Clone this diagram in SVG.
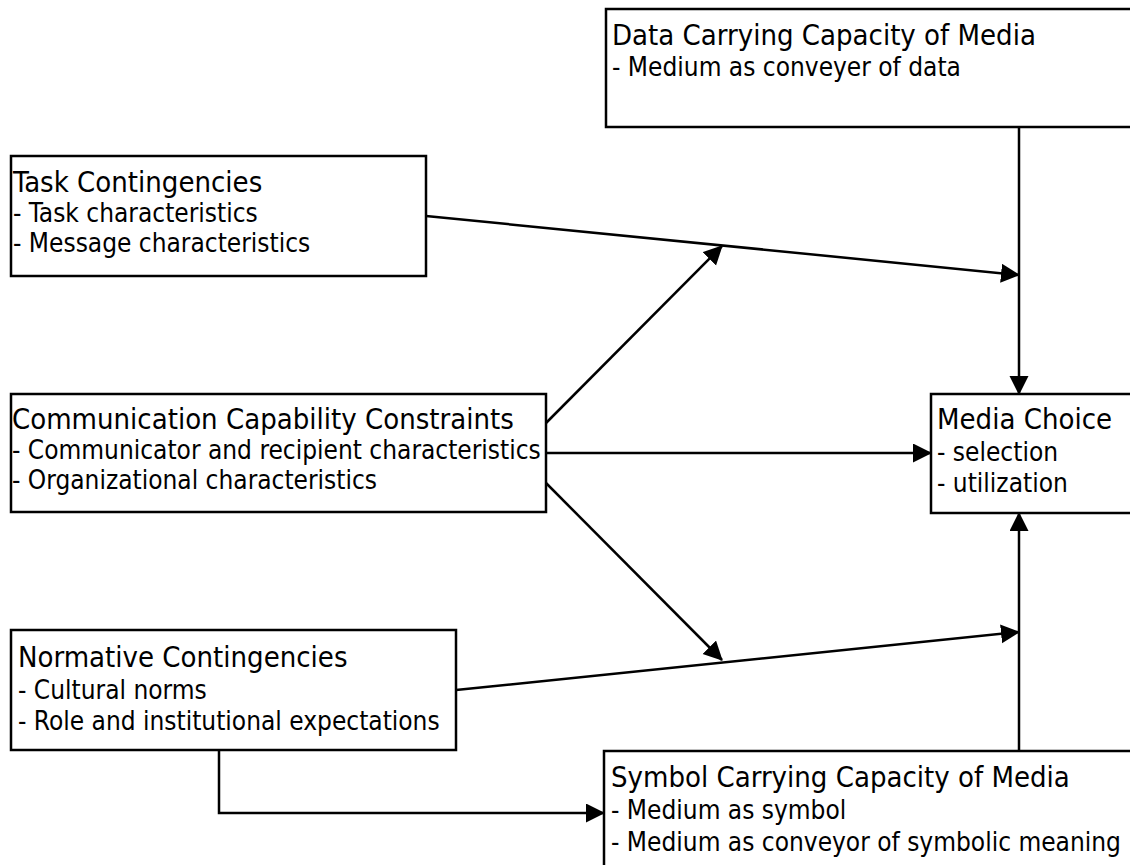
<svg xmlns="http://www.w3.org/2000/svg" width="1130" height="865" viewBox="0 0 1130 865">
  <style>
    .box { fill: #ffffff; stroke: #000000; stroke-width: 2.5; }
    .lbl { font-family: "DejaVu Sans Condensed", "DejaVu Sans", sans-serif; font-stretch: condensed; font-size: 26px; fill: #000000; }
    .ttl { font-size: 29px; }
    .edge { fill: none; stroke: #000000; stroke-width: 2.5; }
  </style>
  <defs>
    <marker id="arrow" markerUnits="userSpaceOnUse" markerWidth="20" markerHeight="20" refX="18" refY="9.5" orient="auto">
      <path d="M0,0 L19,9.5 L0,19 Z" fill="#000000"/>
    </marker>
  </defs>
  <rect width="1130" height="865" fill="#ffffff"/>

  <g id="data-capacity">
    <rect class="box" x="606" y="9" width="540" height="118"/>
    <text class="lbl ttl" x="612" y="45">Data Carrying Capacity of Media</text>
    <text class="lbl" x="612" y="76">- Medium as conveyer of data</text>
  </g>

  <g id="task-contingencies">
    <rect class="box" x="11" y="156" width="415" height="120"/>
    <text class="lbl ttl" x="13" y="192">Task Contingencies</text>
    <text class="lbl" x="13" y="222">- Task characteristics</text>
    <text class="lbl" x="13" y="252">- Message characteristics</text>
  </g>

  <g id="communication-constraints">
    <rect class="box" x="11" y="394" width="535" height="118"/>
    <text class="lbl ttl" x="12" y="429">Communication Capability Constraints</text>
    <text class="lbl" x="12" y="459">- Communicator and recipient characteristics</text>
    <text class="lbl" x="12" y="489">- Organizational characteristics</text>
  </g>

  <g id="media-choice">
    <rect class="box" x="931" y="394" width="210" height="119"/>
    <text class="lbl ttl" x="937" y="429">Media Choice</text>
    <text class="lbl" x="937" y="461">- selection</text>
    <text class="lbl" x="937" y="492">- utilization</text>
  </g>

  <g id="normative-contingencies">
    <rect class="box" x="11" y="630" width="445" height="120"/>
    <text class="lbl ttl" x="18" y="667">Normative Contingencies</text>
    <text class="lbl" x="18" y="699">- Cultural norms</text>
    <text class="lbl" x="18" y="730">- Role and institutional expectations</text>
  </g>

  <g id="symbol-capacity">
    <rect class="box" x="604" y="751" width="540" height="130"/>
    <text class="lbl ttl" x="611" y="787">Symbol Carrying Capacity of Media</text>
    <text class="lbl" x="611" y="819">- Medium as symbol</text>
    <text class="lbl" x="611" y="851">- Medium as conveyor of symbolic meaning</text>
  </g>

  <g id="connectors">
    <line class="edge" x1="1019" y1="127" x2="1019" y2="394" marker-end="url(#arrow)"/>
    <line class="edge" x1="426" y1="216" x2="1019" y2="275" marker-end="url(#arrow)"/>
    <line class="edge" x1="546" y1="423" x2="722" y2="246" marker-end="url(#arrow)"/>
    <line class="edge" x1="546" y1="453" x2="931" y2="453" marker-end="url(#arrow)"/>
    <line class="edge" x1="546" y1="483" x2="722" y2="660" marker-end="url(#arrow)"/>
    <line class="edge" x1="456" y1="690" x2="1019" y2="632" marker-end="url(#arrow)"/>
    <line class="edge" x1="1019" y1="751" x2="1019" y2="513" marker-end="url(#arrow)"/>
    <polyline class="edge" points="219,750 219,813 604,813" marker-end="url(#arrow)"/>
  </g>
</svg>
